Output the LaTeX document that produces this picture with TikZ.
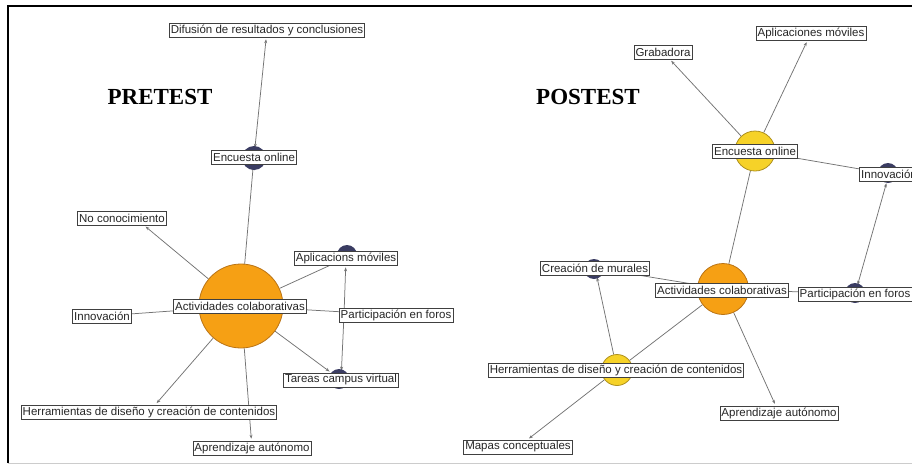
\documentclass[tikz,border=0pt]{standalone}
\usepackage{fontspec}
\setmainfont{Liberation Sans}
\newfontfamily\titlefont{Liberation Serif}
\usetikzlibrary{arrows.meta,backgrounds}
\definecolor{orangeN}{RGB}{246,160,20}
\definecolor{orangeB}{RGB}{185,115,20}
\definecolor{yellowN}{RGB}{246,210,40}
\definecolor{yellowB}{RGB}{175,145,30}
\definecolor{dotN}{RGB}{58,60,98}
\definecolor{lnkN}{RGB}{115,115,115}
\tikzset{
	lbl/.style={draw=black!75, fill=white, line width=0.6pt, inner sep=1.5pt, minimum height=14pt, font=\fontsize{11.5}{12}\selectfont, text=black!85},
	dotn/.style={circle, fill=dotN, minimum size=20pt, inner sep=0pt},
	bign/.style={circle, fill=orangeN, draw=orangeB, line width=0.8pt, inner sep=0pt},
	yelln/.style={circle, fill=yellowN, draw=yellowB, line width=0.8pt, inner sep=0pt},
	lnk/.style={draw=lnkN, line width=0.75pt},
	arr/.style={lnk, -{Stealth[length=4pt,width=3pt]}, shorten >=2pt},
	ttl/.style={font=\titlefont\bfseries\fontsize{23}{26}\selectfont}
}
\begin{document}
\begin{tikzpicture}[x=1pt, y=-1pt]
		\useasboundingbox (0,0) rectangle (912,466);
		\clip (0,0) rectangle (912,466);
		% frame
		\draw[line width=1.2pt] (8,463) -- (8,6) -- (912,6);
		\draw[black!20, line width=0.8pt] (8,463) -- (912,463);
		% Pretest
		\node[ttl] (tPre) at (160,97) {PRETEST};
		\node[dotn, minimum size=24pt] (dEncPre) at (254,158) {};
		\node[dotn] (dAplPre) at (347,255) {};
		\node[dotn] (dTarPre) at (339,379) {};
		\node[bign, minimum size=84pt] (actPre) at (241,306) {};
		\coordinate (parPreD) at (344,315);
		\node[lbl] (difPre) at (267,30) {Difusión de resultados y conclusiones};
		\node[lbl] (encPre) at (254,157) {Encuesta online};
		\node[lbl] (noPre) at (122,218) {No conocimiento};
		\node[lbl] (actPreL) at (240,306) {Actividades colaborativas};
		\node[lbl] (aplPre) at (346,258) {Aplicacions móviles};
		\node[lbl] (parPre) at (396,315) {Participación en foros};
		\node[lbl] (innPre) at (102,316) {Innovación};
		\node[lbl] (tarPre) at (341,380) {Tareas campus virtual};
		\node[lbl] (herPre) at (149,412) {Herramientas de diseño y creación de contenidos};
		\node[lbl] (aprPre) at (252,448) {Aprendizaje autónomo};
		% Postest
		\node[ttl] (tPost) at (588,97) {POSTEST};
		\node[dotn] (dInnPost) at (888,173) {};
		\node[dotn] (dParPost) at (855,293) {};
		\node[dotn] (dCreaPost) at (594,269) {};
		\node[yelln, minimum size=40pt] (encPostC) at (755,151) {};
		\node[bign, minimum size=51pt] (actPost) at (723,289) {};
		\node[yelln, minimum size=31pt] (herPostC) at (617,370) {};
		\node[lbl] (graPost) at (663,52) {Grabadora};
		\node[lbl] (aplPost) at (811,33) {Aplicaciones móviles};
		\node[lbl] (encPost) at (755,151) {Encuesta online};
		\node[lbl] (innPost) at (889,174) {Innovación};
		\node[lbl] (actPostL) at (722,290) {Actividades colaborativas};
		\node[lbl] (parPost) at (855,294) {Participación en foros};
		\node[lbl] (creaPost) at (595,268) {Creación de murales};
		\node[lbl] (herPost) at (616,370) {Herramientas de diseño y creación de contenidos};
		\node[lbl] (aprPost) at (779,413) {Aprendizaje autónomo};
		\node[lbl] (mapPost) at (518,447) {Mapas conceptuales};
		% links
		\begin{scope}[on background layer]
			\draw[arr, {Stealth[length=4pt,width=3pt]}-{Stealth[length=4pt,width=3pt]}, shorten <=2pt] (encPre) -- (difPre);
			\draw[arr] (actPre) -- (encPre);
			\draw[arr] (actPre) -- ([xshift=22pt]noPre.south);
			\draw[lnk] (actPre) -- (aplPre);
			\draw[lnk] (actPre) -- (parPre);
			\draw[lnk] (actPre) -- (innPre);
			\draw[arr] (actPre) -- (tarPre);
			\draw[arr] (actPre) -- (herPre);
			\draw[arr] (actPre) -- (aprPre);
			\draw[arr] (parPreD) -- (aplPre);
			\draw[arr] (parPreD) -- (tarPre);
			\draw[arr] (encPostC) -- (graPost);
			\draw[arr] (encPostC) -- (aplPost);
			\draw[lnk] (encPost) -- (innPost);
			\draw[lnk] (actPost) -- (encPostC);
			\draw[arr, {Stealth[length=4pt,width=3pt]}-{Stealth[length=4pt,width=3pt]}, shorten <=2pt] (innPost) -- (parPost);
			\draw[lnk] (actPost) -- (parPost);
			\draw[lnk] (creaPost) -- (actPost);
			\draw[lnk] (actPost) -- (herPostC);
			\draw[arr] (actPost) -- (aprPost);
			\draw[arr] (herPostC) -- (creaPost);
			\draw[arr] (herPostC) -- (mapPost);
		\end{scope}
	\end{tikzpicture}
\end{document}
